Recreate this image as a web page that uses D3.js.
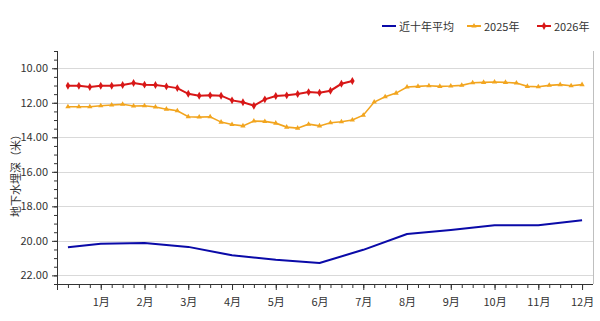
<!DOCTYPE html>
<html>
<head>
<meta charset="utf-8">
<script src="https://cdn.jsdelivr.net/npm/d3@7"></script>
<style>
body { margin: 0; background: #fff; }
text { font-family: "Noto Sans CJK SC", "Noto Sans", sans-serif; }
</style>
</head>
<body>
<svg id="chart"></svg>
<script>
var monthLabels = ["1月","2月","3月","4月","5月","6月","7月","8月","9月","10月","11月","12月"];
var yTicks = [10, 12, 14, 16, 18, 20, 22];
var seriesNames = ["近十年平均", "2025年", "2026年"];

// 近十年平均: first point then one per month
var avgPos = [0.25, 1, 2, 3, 4, 5, 6, 7, 8, 9, 10, 11, 12];
var avgVals = [20.37, 20.17, 20.12, 20.35, 20.84, 21.1, 21.28, 20.52, 19.6, 19.37, 19.1, 19.1, 18.8];

// weekly points (4 per month)
var vals2025 = [12.23, 12.23, 12.23, 12.17, 12.13, 12.09, 12.19, 12.17, 12.24, 12.37, 12.46, 12.81,
                12.83, 12.81, 13.12, 13.26, 13.34, 13.06, 13.08, 13.18, 13.41, 13.47, 13.24, 13.34,
                13.16, 13.1, 13.0, 12.72, 11.96, 11.65, 11.44, 11.09, 11.05, 11.01, 11.05, 11.03,
                10.99, 10.84, 10.82, 10.8, 10.82, 10.86, 11.05, 11.07, 10.99, 10.95, 11.01, 10.95];
var vals2026 = [11.01, 11.01, 11.09, 11.01, 11.01, 10.97, 10.85, 10.95, 10.97, 11.05, 11.15, 11.48,
                11.59, 11.57, 11.59, 11.86, 11.97, 12.17, 11.8, 11.61, 11.57, 11.49, 11.38, 11.42,
                11.3, 10.9, 10.74];

var width = 600, height = 321;
var mLeft = 57, mRight = 593, mTop = 51, mBottom = 284;

var svg = d3.select("#chart").attr("width", width).attr("height", height);

var x = d3.scaleLinear().domain([0, 12.25]).range([mLeft, mRight]);
var y = d3.scaleLinear().domain([9, 22.5]).range([mTop, mBottom]);

// grid
svg.append("g").selectAll("line")
    .data(yTicks).enter().append("line")
    .attr("x1", mLeft).attr("x2", mRight)
    .attr("y1", function(d) { return Math.round(y(d)) + 0.5; })
    .attr("y2", function(d) { return Math.round(y(d)) + 0.5; })
    .attr("stroke", "#d9d9d9").attr("stroke-width", 1);

svg.append("line")
    .attr("x1", mRight + 0.5).attr("x2", mRight + 0.5).attr("y1", mTop).attr("y2", mBottom)
    .attr("stroke", "#bfbfbf");

// y axis with minor ticks
var yMinor = d3.range(9, 22.51, 0.5);
var yAxisMinor = d3.axisLeft(y).tickValues(yMinor).tickSize(3).tickFormat("");
var yAxis = d3.axisLeft(y).tickValues(yTicks).tickSize(5).tickPadding(4).tickFormat(d3.format(".2f"));
svg.append("g").attr("transform", "translate(" + mLeft + ",0)").call(yAxisMinor)
    .call(function(g) { g.select(".domain").remove(); })
    .selectAll("line").attr("stroke", "#333");
var yg = svg.append("g").attr("transform", "translate(" + mLeft + ",0)").call(yAxis);
yg.select(".domain").attr("stroke", "#333").attr("d", "M0.5," + mTop + "V" + mBottom);
yg.selectAll("line").attr("stroke", "#333");
yg.selectAll("text").attr("font-size", 11).attr("fill", "#333");

// x axis
var xMinor = d3.range(0, 12.01, 0.25);
var xAxisMinor = d3.axisBottom(x).tickValues(xMinor).tickSize(4).tickFormat("");
var xAxis = d3.axisBottom(x).tickValues(d3.range(0, 13)).tickSize(6).tickPadding(8)
    .tickFormat(function(d) { return d === 0 ? "" : monthLabels[d - 1]; });
svg.append("g").attr("transform", "translate(0," + mBottom + ")").call(xAxisMinor)
    .call(function(g) { g.select(".domain").remove(); })
    .selectAll("line").attr("stroke", "#333");
var xg = svg.append("g").attr("transform", "translate(0," + mBottom + ")").call(xAxis);
xg.select(".domain").attr("stroke", "#333").attr("d", "M" + mLeft + ",0.5H" + mRight);
xg.selectAll("line").attr("stroke", "#333");
xg.selectAll("text").attr("font-size", 11).attr("fill", "#333");

// y title
svg.append("text")
    .attr("transform", "translate(17," + 173 + ") rotate(-90)")
    .attr("text-anchor", "middle")
    .attr("dominant-baseline", "middle")
    .attr("font-size", 11).attr("fill", "#333")
    .text("地下水埋深（米）");

// lines
var avgData = avgPos.map(function(p, i) { return [p, avgVals[i]]; });
var data2025 = vals2025.map(function(v, i) { return [(i + 1) * 0.25, v]; });
var data2026 = vals2026.map(function(v, i) { return [(i + 1) * 0.25, v]; });

var line = d3.line().x(function(d) { return x(d[0]); }).y(function(d) { return y(d[1]); });

var colors = ["#0a0aa8", "#f2a51f", "#d81717"];

svg.append("path").datum(avgData).attr("d", line)
    .attr("fill", "none").attr("stroke", colors[0]).attr("stroke-width", 2)
    .attr("stroke-linejoin", "round");

svg.append("path").datum(data2025).attr("d", line)
    .attr("fill", "none").attr("stroke", colors[1]).attr("stroke-width", 1.6);
svg.append("g").selectAll("path")
    .data(data2025).enter().append("path")
    .attr("transform", function(d) { return "translate(" + x(d[0]) + "," + y(d[1]) + ")"; })
    .attr("d", d3.symbol().type(d3.symbolTriangle).size(12))
    .attr("fill", colors[1]);

svg.append("path").datum(data2026).attr("d", line)
    .attr("fill", "none").attr("stroke", colors[2]).attr("stroke-width", 2);
svg.append("g").selectAll("path")
    .data(data2026).enter().append("path")
    .attr("transform", function(d) { return "translate(" + x(d[0]) + "," + y(d[1]) + ")"; })
    .attr("d", d3.symbol().type(d3.symbolDiamond).size(18))
    .attr("fill", colors[2]);

// legend
var legendX = [382, 467, 537];
var leg = svg.append("g").selectAll("g")
    .data(seriesNames).enter().append("g")
    .attr("transform", function(d, i) { return "translate(" + legendX[i] + ",26)"; });
leg.append("line").attr("x1", 0).attr("x2", 14).attr("y1", 0).attr("y2", 0)
    .attr("stroke", function(d, i) { return colors[i]; })
    .attr("stroke-width", 2);
leg.filter(function(d, i) { return i > 0; }).append("path")
    .attr("transform", "translate(7,0)")
    .attr("d", function(d, i) {
        return d3.symbol().type(i === 0 ? d3.symbolTriangle : d3.symbolDiamond).size(i === 0 ? 12 : 18)();
    })
    .attr("fill", function(d, i) { return colors[i + 1]; });
leg.append("text").attr("x", 17).attr("y", 0)
    .attr("dominant-baseline", "central")
    .attr("font-size", 11).attr("fill", "#333")
    .text(function(d) { return d; });
</script>
</body>
</html>
